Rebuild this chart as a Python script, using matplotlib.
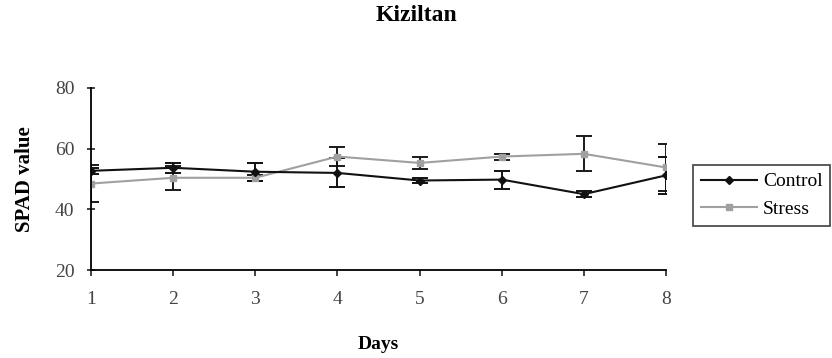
import matplotlib.pyplot as plt
from matplotlib.lines import Line2D

plt.rcParams['font.family'] = ['Liberation Serif', 'DejaVu Serif']

# Values
days = [1, 2, 3, 4, 5, 6, 7, 8]
control = [52.7, 53.7, 52.4, 52.0, 49.5, 49.8, 45.0, 51.2]
control_err = [1.0, 1.7, 3.0, 4.8, 0.8, 3.0, 1.0, 6.0]
stress = [48.5, 50.4, 50.4, 57.4, 55.3, 57.4, 58.3, 53.8]
stress_err = [6.0, 4.0, 1.0, 3.0, 2.0, 1.0, 5.8, 7.8]

fig = plt.figure(figsize=(8.32, 3.58), dpi=100)
ax = fig.add_axes([0.1094, 0.2458, 0.6911, 0.5084])

ax.errorbar(days, stress, yerr=stress_err, color='#a0a0a0', marker='s',
            markersize=5, linewidth=1.5, ecolor='#1a1a1a', elinewidth=1.4,
            capsize=6, capthick=1.4)
ax.errorbar(days, control, yerr=control_err, color='#111111', marker='D',
            markersize=4, linewidth=1.5, ecolor='#111111', elinewidth=1.4,
            capsize=6, capthick=1.4)

ax.set_xlim(1, 8)
ax.set_ylim(20, 80)
ax.set_xticks(days)
ax.set_yticks([20, 40, 60, 80])
ax.spines['top'].set_visible(False)
ax.spines['right'].set_visible(False)
for s in ['left', 'bottom']:
    ax.spines[s].set_linewidth(1.3)
ax.tick_params(axis='both', labelsize=14, width=1.2, length=4,
               colors='#222222', labelcolor='#444444')
ax.tick_params(axis='y', direction='inout', length=6, pad=9)
ax.tick_params(axis='x', pad=11)

ax.set_xlabel("Days", fontsize=14, fontweight='bold', labelpad=20)
ax.set_ylabel("SPAD value", fontsize=15, fontweight='bold', labelpad=14)
fig.text(0.501, 0.958, "Kiziltan", fontsize=17, fontweight='bold',
         ha='center', va='center')

handles = [
    Line2D([], [], color='#111111', marker='D', markersize=4, linewidth=1.5),
    Line2D([], [], color='#a0a0a0', marker='s', markersize=5, linewidth=1.5),
]
leg = fig.legend(handles, ["Control", "Stress"], loc='upper left',
                 bbox_to_anchor=(0.833, 0.539), fontsize=14, frameon=True,
                 fancybox=False, edgecolor='#222222', handlelength=2.9,
                 borderpad=0.4, labelspacing=0.5, handletextpad=0.3,
                 borderaxespad=0)
leg.get_frame().set_linewidth(1.3)

plt.savefig("out.png", dpi=100)
